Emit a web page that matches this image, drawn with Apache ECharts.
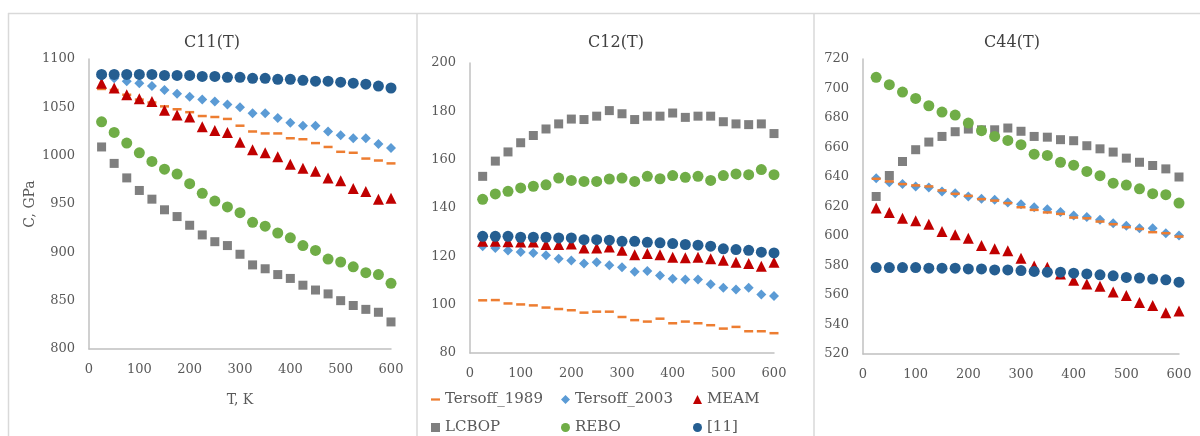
<!DOCTYPE html>
<html>
<head>
<meta charset="utf-8">
<script src="https://cdn.jsdelivr.net/npm/echarts@6/dist/echarts.min.js"></script>
<style>
  html, body { margin: 0; padding: 0; background: #fff; }
  #main { width: 1200px; height: 436px; }
</style>
</head>
<body>
<div id="main"></div>
<script>
// temperatures, K
var temps = [25, 50, 75, 100, 125, 150, 175, 200, 225, 250, 275, 300,
             325, 350, 375, 400, 425, 450, 475, 500, 525, 550, 575, 600];
var xTicks = [0, 100, 200, 300, 400, 500, 600];

// C11(T), GPa
var c11_t1989 = [1069,1068,1063,1058,1055,1051,1048,1045,1041,1040,1038,1031,1025,1023,1023,1018,1017,1013,1009,1004,1003,997,995,992];
var c11_t2003 = [1082,1080,1077,1075,1072,1068,1064,1061,1058,1056,1053,1050,1044,1044,1039,1034,1031,1031,1025,1021,1018,1018,1012,1008];
var c11_meam  = [1075,1070,1063,1059,1056,1047,1042,1040,1030,1026,1024,1014,1006,1003,999,991,987,984,977,974,966,963,955,956];
var c11_lcbop = [1009,992,977,964,955,944,937,928,918,911,907,898,887,883,877,873,866,861,857,850,845,841,838,828];
var c11_rebo  = [1035,1024,1013,1003,994,986,981,971,961,953,947,941,931,927,920,915,907,902,893,890,885,879,877,868];
var c11_ref   = [1084,1084,1084,1084,1084,1083,1083,1083,1082,1082,1081,1081,1080,1080,1079,1079,1078,1077,1077,1076,1075,1074,1072,1070];

// C12(T), GPa
var c12_t1989 = [101.8,101.9,100.5,100.1,99.7,98.8,98.2,97.7,96.7,97.1,97.1,94.9,93.6,93.0,94.2,92.3,93.0,92.3,91.5,90.1,90.8,89.0,89.0,88.2];
var c12_t2003 = [124.2,123.5,122.4,121.8,121.4,120.5,119.0,118.3,117.0,117.6,116.3,115.5,113.6,113.9,112.1,110.7,110.4,110.4,108.4,107.0,106.3,107.0,104.2,103.6];
var c12_meam  = [126.2,126.2,126.0,125.9,125.9,124.9,124.9,125.1,123.5,123.5,123.9,122.5,120.7,121.2,120.7,119.6,119.4,119.6,119.0,118.4,117.6,117.0,115.9,117.6];
var c12_lcbop = [153.1,159.4,163.2,167.0,170.0,172.7,174.8,176.8,176.6,178.0,180.3,179.0,176.6,178.0,178.0,179.3,177.5,178.0,178.0,175.7,174.8,174.5,174.8,170.8];
var c12_rebo  = [143.6,145.8,146.9,148.3,149.0,149.6,152.4,151.4,151.0,151.0,152.0,152.4,151.0,153.1,152.1,153.4,152.7,153.1,151.4,153.4,154.1,153.8,155.9,153.8];
var c12_ref   = [128.3,128.3,128.3,127.9,127.9,127.9,127.6,127.6,126.9,126.9,126.7,126.2,126.2,125.8,125.6,125.3,124.9,124.6,124.2,123.1,122.8,122.5,121.7,121.4];

// C44(T), GPa
var c44_t1989 = [638.8,637.0,635.2,634.3,633.6,630.9,628.6,627.2,625.0,624.0,622.3,619.5,617.7,616.0,615.0,612.5,612.0,609.8,608.0,606.0,604.8,602.6,601.9,599.6];
var c44_t2003 = [639.2,636.5,635.2,633.6,632.9,630.2,629.0,626.8,625.2,624.5,622.7,621.6,619.5,618.2,616.2,613.9,612.8,611.0,608.7,606.9,605.3,605.3,601.9,600.3];
var c44_meam  = [618.9,616.0,612.0,610.3,608.0,603.0,600.8,598.5,593.5,591.3,590.0,585.0,579.7,578.8,574.3,570.0,567.5,566.0,562.0,559.6,555.0,552.8,548.0,549.2];
var c44_lcbop = [626.8,641.0,650.5,658.5,663.7,667.5,670.7,672.5,672.0,672.0,673.2,671.0,667.5,667.0,665.3,664.6,661.2,659.1,656.9,652.8,650.0,647.8,645.5,640.0];
var c44_rebo  = [707.6,702.6,697.6,693.3,688.3,684.0,682.0,676.6,671.4,667.5,664.8,661.9,655.5,654.6,650.0,648.0,643.8,640.9,635.8,634.5,632.0,628.7,628.0,622.3];
var c44_ref   = [578.6,578.6,578.6,578.6,578.2,578.2,578.2,577.7,577.7,577.0,577.0,576.6,576.0,575.5,575.5,574.8,574.3,573.7,573.0,571.9,571.5,570.8,570.3,568.7];

var font = 'DejaVu Serif';
var textColor = '#595959';
var dashPath = 'path://M0,0H8V2H0Z';

var styles = {
  'Tersoff_1989': { symbol: 'rect', size: [9, 2.5], color: '#ED7D31', z: 3 },
  'Tersoff_2003': { symbol: 'diamond', size: 10, color: '#5B9BD5', z: 2 },
  'MEAM':         { symbol: 'triangle', size: 11, color: '#C00000', z: 4 },
  'LCBOP':        { symbol: 'rect', size: 9, color: '#7F7F7F', z: 5 },
  'REBO':         { symbol: 'circle', size: 11, color: '#70AD47', z: 6 },
  '[11]':         { symbol: 'circle', size: 11, color: '#255E91', z: 7 }
};

function pairs(vals) {
  return vals.map(function (v, i) { return [temps[i], v]; });
}

function mk(name, vals, idx) {
  var s = styles[name];
  return {
    name: name, type: 'scatter',
    xAxisIndex: idx, yAxisIndex: idx,
    symbol: s.symbol, symbolSize: s.size, z: s.z,
    itemStyle: { color: s.color, opacity: 1 },
    data: pairs(vals)
  };
}

function plain(v) { return String(v); }

function xAx(idx, extra) {
  var o = {
    type: 'value', gridIndex: idx, min: 0, max: 600, interval: 100,
    axisLine: { show: true, lineStyle: { color: '#c0c0c0', width: 1.5 } },
    axisTick: { show: false }, splitLine: { show: false },
    axisLabel: { fontFamily: font, fontSize: 13, color: textColor, margin: 14, formatter: plain }
  };
  return Object.assign(o, extra || {});
}

function yAx(idx, min, max, step, extra) {
  var o = {
    type: 'value', gridIndex: idx, min: min, max: max, interval: step,
    axisLine: { show: true, lineStyle: { color: '#c0c0c0', width: 1.5 } },
    axisTick: { show: false }, splitLine: { show: false },
    axisLabel: { fontFamily: font, fontSize: 13, color: textColor, margin: 14, formatter: plain }
  };
  return Object.assign(o, extra || {});
}

function legendCol(left, names) {
  return {
    orient: 'vertical', left: left, top: 392, padding: 0,
    itemWidth: 9, itemHeight: 9, itemGap: 13,
    textStyle: { fontFamily: font, fontSize: 15, color: textColor },
    data: names.map(function (n) {
      return n === 'Tersoff_1989' ? { name: n, icon: dashPath } : { name: n };
    })
  };
}

function frameLine(x1, y1, x2, y2) {
  return { type: 'line', silent: true, z: -1,
    shape: { x1: x1, y1: y1, x2: x2, y2: y2 },
    style: { stroke: '#d9d9d9', lineWidth: 1.5 } };
}

var titleStyle = { fontFamily: font, fontSize: 16, fontWeight: 'normal', color: '#404040' };

var chart = echarts.init(document.getElementById('main'));
chart.setOption({
  animation: false,
  title: [
    { text: 'C11(T)', left: 207, top: 30, textAlign: 'center', textStyle: titleStyle },
    { text: 'C12(T)', left: 611, top: 30, textAlign: 'center', textStyle: titleStyle },
    { text: 'C44(T)', left: 1007, top: 30, textAlign: 'center', textStyle: titleStyle }
  ],
  legend: [
    legendCol(431, ['Tersoff_1989', 'LCBOP']),
    legendCol(561, ['Tersoff_2003', 'REBO']),
    legendCol(693, ['MEAM', '[11]'])
  ],
  grid: [
    { left: 89, top: 59, width: 302, height: 290 },
    { left: 470, top: 63, width: 304, height: 290 },
    { left: 863, top: 59, width: 316, height: 295 }
  ],
  xAxis: [
    xAx(0, { name: 'T, K', nameLocation: 'middle', nameGap: 44,
      nameTextStyle: { fontFamily: font, fontSize: 14, color: textColor } }),
    xAx(1),
    xAx(2)
  ],
  yAxis: [
    yAx(0, 800, 1100, 50, { name: 'C, GPa', nameLocation: 'middle', nameGap: 52,
      nameTextStyle: { fontFamily: font, fontSize: 14, color: textColor } }),
    yAx(1, 80, 200, 20),
    yAx(2, 520, 720, 20)
  ],
  graphic: [
    frameLine(8, 13.5, 1200, 13.5),
    frameLine(8.5, 13, 8.5, 436),
    frameLine(417, 13, 417, 436),
    frameLine(814, 13, 814, 436)
  ],
  series: [
    mk('Tersoff_1989', c11_t1989, 0), mk('Tersoff_2003', c11_t2003, 0), mk('MEAM', c11_meam, 0),
    mk('LCBOP', c11_lcbop, 0), mk('REBO', c11_rebo, 0), mk('[11]', c11_ref, 0),
    mk('Tersoff_1989', c12_t1989, 1), mk('Tersoff_2003', c12_t2003, 1), mk('MEAM', c12_meam, 1),
    mk('LCBOP', c12_lcbop, 1), mk('REBO', c12_rebo, 1), mk('[11]', c12_ref, 1),
    mk('Tersoff_1989', c44_t1989, 2), mk('Tersoff_2003', c44_t2003, 2), mk('MEAM', c44_meam, 2),
    mk('LCBOP', c44_lcbop, 2), mk('REBO', c44_rebo, 2), mk('[11]', c44_ref, 2)
  ]
});
</script>
</body>
</html>
